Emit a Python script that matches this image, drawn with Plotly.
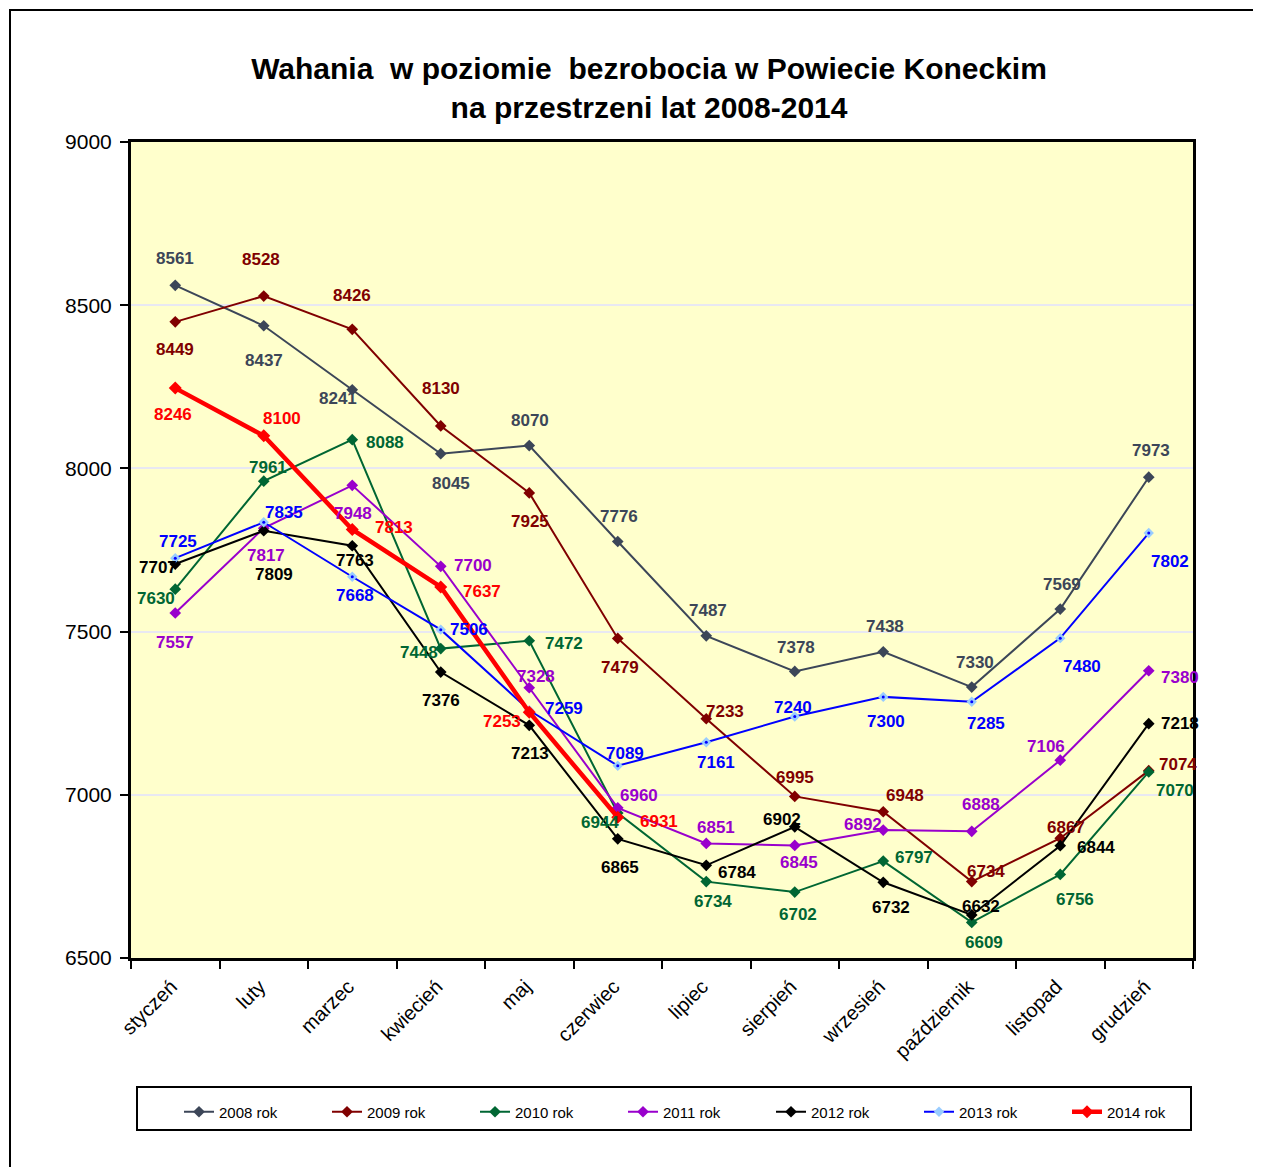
import plotly.graph_objects as go

# ---------------- data ----------------
months = ["styczeń", "luty", "marzec", "kwiecień", "maj", "czerwiec", "lipiec",
          "sierpień", "wrzesień", "październik", "listopad", "grudzień"]

y2008 = [8561, 8437, 8241, 8045, 8070, 7776, 7487, 7378, 7438, 7330, 7569, 7973]
y2009 = [8449, 8528, 8426, 8130, 7925, 7479, 7233, 6995, 6948, 6734, 6867, 7074]
y2010 = [7630, 7961, 8088, 7448, 7472, 6944, 6734, 6702, 6797, 6609, 6756, 7070]
y2011 = [7557, 7817, 7948, 7700, 7328, 6960, 6851, 6845, 6892, 6888, 7106, 7380]
y2012 = [7707, 7809, 7763, 7376, 7213, 6865, 6784, 6902, 6732, 6632, 6844, 7218]
y2013 = [7725, 7835, 7668, 7506, 7259, 7089, 7161, 7240, 7300, 7285, 7480, 7802]
y2014 = [8246, 8100, 7813, 7637, 7253, 6931]

series_names = ["2008 rok", "2009 rok", "2010 rok", "2011 rok", "2012 rok", "2013 rok", "2014 rok"]
y_ticks = [6500, 7000, 7500, 8000, 8500, 9000]

# ---------------- styles ----------------
colors = ["#3C4658", "#800000", "#006633", "#9900CC", "#000000", "#0000FF", "#FF0000"]
marker_colors = ["#3C4658", "#800000", "#006633", "#9900CC", "#000000", "#99CCFF", "#FF0000"]
line_widths = [2, 2, 2, 2, 2, 2, 4.5]
marker_sizes = [9, 9, 9, 9, 9, 8, 10]

# label offsets in pixels (dx right, dy down) for each data label
label_offsets = [
    [(0, -27), (0, 35), (-14, 9), (10, 30), (1, -25), (1, -25), (2, -25), (1, -24), (2, -25), (3, -25), (2, -25), (2, -27)],
    [(0, 28), (-3, -37), (0, -34), (0, -37), (1, 29), (2, 29), (19, -7), (0, -19), (22, -16), (14, -10), (6, -11), (29, -6)],
    [(-19, 9), (4, -14), (33, 3), (-22, 4), (35, 3), (-18, 9), (7, 20), (3, 22), (31, -4), (12, 20), (15, 25), (26, 19)],
    [(0, 29), (2, 27), (1, 28), (32, -1), (7, -11), (21, -12), (10, -16), (4, 17), (-20, -6), (9, -27), (-14, -14), (31, 7)],
    [(-17, 3), (10, 44), (3, 15), (0, 28), (1, 28), (2, 29), (31, 7), (-13, -7), (8, 25), (9, -8), (36, 2), (31, 0)],
    [(3, -17), (20, -10), (3, 19), (28, 0), (35, -2), (7, -12), (10, 20), (-2, -9), (3, 25), (14, 22), (22, 28), (21, 28)],
    [(-2, 26), (18, -17), (42, -2), (41, 5), (-27, 9), (41, 4)],
]

FONT = "Liberation Sans, Arial, sans-serif"
OFF = 8  # page body margin of the browser
W, H = 1261 - 2 * OFF, 1175 - 2 * OFF
# plot area edges in screen pixels of the reference
SL, SR, ST, SB = 131, 1193, 142, 958
L, R, T, B = SL - OFF, SR - OFF, ST - OFF, SB - OFF


def px_x(p):
    return (p - OFF - L) / (R - L)


def px_y(p):
    return (B - (p - OFF)) / (B - T)


all_series = [y2008, y2009, y2010, y2011, y2012, y2013, y2014]

fig = go.Figure()
for i, ys in enumerate(all_series):
    fig.add_trace(go.Scatter(
        x=months[:len(ys)], y=ys, name=series_names[i], mode="lines+markers",
        line=dict(color=colors[i], width=line_widths[i]),
        marker=dict(symbol="diamond", size=marker_sizes[i], color=marker_colors[i]),
        cliponaxis=False,
    ))
    if i == 5:
        fig.add_trace(go.Scatter(
            x=months[:len(ys)], y=ys, mode="markers", showlegend=False, hoverinfo="skip",
            marker=dict(symbol="circle", size=3, color=colors[i]),
        ))

annotations = []
for i, ys in enumerate(all_series):
    for j, v in enumerate(ys):
        dx, dy = label_offsets[i][j]
        annotations.append(dict(
            x=months[j], y=v, xref="x", yref="y", text=str(v), showarrow=False,
            xshift=dx, yshift=-dy,
            font=dict(family=FONT, size=17, color=colors[i], weight="bold"),
        ))

shapes = [
    # outer frame
    dict(type="rect", xref="paper", yref="paper",
         x0=px_x(10), x1=px_x(1300), y0=px_y(1220), y1=px_y(10),
         line=dict(color="black", width=2), layer="above"),
    # legend box
    dict(type="rect", xref="paper", yref="paper",
         x0=px_x(137), x1=px_x(1191), y0=px_y(1130), y1=px_y(1087),
         line=dict(color="black", width=2), layer="above"),
]

fig.update_layout(
    width=W, height=H,
    margin=dict(l=L, r=W - R, t=T, b=H - B),
    paper_bgcolor="white",
    plot_bgcolor="#FFFFCC",
    font=dict(family=FONT, color="black"),
    title=dict(
        text="Wahania&nbsp; w poziomie&nbsp; bezrobocia w Powiecie Koneckim<br>na przestrzeni lat 2008-2014",
        font=dict(family=FONT, size=30, color="black", weight="bold"),
        xref="container", yref="container", x=(649 - OFF) / W, y=1 - (87 - 2 * OFF) / H,
        xanchor="center", yanchor="middle",
    ),
    xaxis=dict(
        type="category", categoryorder="array", categoryarray=months,
        range=[-0.5, 11.5],
        showline=True, linecolor="black", linewidth=3, mirror=True,
        ticks="outside", tickson="boundaries", ticklen=8, tickwidth=2, tickcolor="black",
        tickangle=-45, tickfont=dict(family=FONT, size=20, color="black"),
        ticklabelstandoff=6, ticklabelshift=-4,
        showgrid=False, zeroline=False,
    ),
    yaxis=dict(
        range=[6500, 9000], tickvals=y_ticks,
        showline=True, linecolor="black", linewidth=3, mirror=True,
        ticks="outside", ticklen=8, tickwidth=2, tickcolor="black",
        ticklabelstandoff=4,
        tickfont=dict(family=FONT, size=21, color="black"),
        showgrid=True, gridcolor="#E8E8F2", gridwidth=2, zeroline=False,
    ),
    legend=dict(
        orientation="h", x=px_x(179), y=px_y(1112), xanchor="left", yanchor="middle",
        font=dict(family=FONT, size=15, color="black"),
        bgcolor="rgba(0,0,0,0)", borderwidth=0,
        entrywidth=103, entrywidthmode="pixels",
        traceorder="normal",
    ),
    annotations=annotations,
    shapes=shapes,
    showlegend=True,
)

fig.write_html("out.html")
